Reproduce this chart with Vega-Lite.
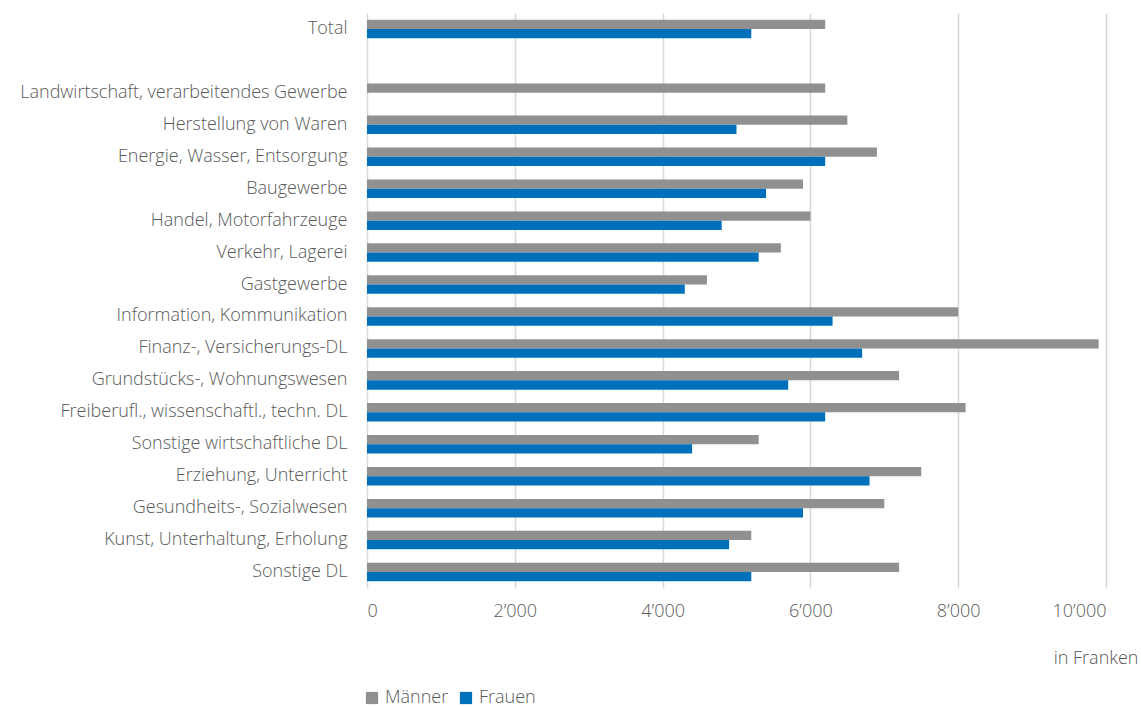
{
  "$schema": "https://vega.github.io/schema/vega-lite/v6.json",
  "autosize": "none",
  "width": 739,
  "height": 575,
  "padding": {"left": 367, "top": 13, "right": 35, "bottom": 119},
  "background": "white",
  "config": {
    "view": {"stroke": null},
    "font": "Open Sans",
    "axis": {"labelColor": "#595959", "titleColor": "#595959", "labelFont": "Open Sans", "titleFont": "Open Sans", "labelFontWeight": 300, "titleFontWeight": 300},
    "legend": {"labelColor": "#595959", "labelFont": "Open Sans", "labelFontWeight": 300}
  },
  "data": {
    "values": [
      {"branche": "Total", "geschlecht": "Männer", "lohn": 6200},
      {"branche": "Total", "geschlecht": "Frauen", "lohn": 5200},
      {"branche": "Landwirtschaft, verarbeitendes Gewerbe", "geschlecht": "Männer", "lohn": 6200},
      {"branche": "Herstellung von Waren", "geschlecht": "Männer", "lohn": 6500},
      {"branche": "Herstellung von Waren", "geschlecht": "Frauen", "lohn": 5000},
      {"branche": "Energie, Wasser, Entsorgung", "geschlecht": "Männer", "lohn": 6900},
      {"branche": "Energie, Wasser, Entsorgung", "geschlecht": "Frauen", "lohn": 6200},
      {"branche": "Baugewerbe", "geschlecht": "Männer", "lohn": 5900},
      {"branche": "Baugewerbe", "geschlecht": "Frauen", "lohn": 5400},
      {"branche": "Handel, Motorfahrzeuge", "geschlecht": "Männer", "lohn": 6000},
      {"branche": "Handel, Motorfahrzeuge", "geschlecht": "Frauen", "lohn": 4800},
      {"branche": "Verkehr, Lagerei", "geschlecht": "Männer", "lohn": 5600},
      {"branche": "Verkehr, Lagerei", "geschlecht": "Frauen", "lohn": 5300},
      {"branche": "Gastgewerbe", "geschlecht": "Männer", "lohn": 4600},
      {"branche": "Gastgewerbe", "geschlecht": "Frauen", "lohn": 4300},
      {"branche": "Information, Kommunikation", "geschlecht": "Männer", "lohn": 8000},
      {"branche": "Information, Kommunikation", "geschlecht": "Frauen", "lohn": 6300},
      {"branche": "Finanz-, Versicherungs-DL", "geschlecht": "Männer", "lohn": 9900},
      {"branche": "Finanz-, Versicherungs-DL", "geschlecht": "Frauen", "lohn": 6700},
      {"branche": "Grundstücks-, Wohnungswesen", "geschlecht": "Männer", "lohn": 7200},
      {"branche": "Grundstücks-, Wohnungswesen", "geschlecht": "Frauen", "lohn": 5700},
      {"branche": "Freiberufl., wissenschaftl., techn. DL", "geschlecht": "Männer", "lohn": 8100},
      {"branche": "Freiberufl., wissenschaftl., techn. DL", "geschlecht": "Frauen", "lohn": 6200},
      {"branche": "Sonstige wirtschaftliche DL", "geschlecht": "Männer", "lohn": 5300},
      {"branche": "Sonstige wirtschaftliche DL", "geschlecht": "Frauen", "lohn": 4400},
      {"branche": "Erziehung, Unterricht", "geschlecht": "Männer", "lohn": 7500},
      {"branche": "Erziehung, Unterricht", "geschlecht": "Frauen", "lohn": 6800},
      {"branche": "Gesundheits-, Sozialwesen", "geschlecht": "Männer", "lohn": 7000},
      {"branche": "Gesundheits-, Sozialwesen", "geschlecht": "Frauen", "lohn": 5900},
      {"branche": "Kunst, Unterhaltung, Erholung", "geschlecht": "Männer", "lohn": 5200},
      {"branche": "Kunst, Unterhaltung, Erholung", "geschlecht": "Frauen", "lohn": 4900},
      {"branche": "Sonstige DL", "geschlecht": "Männer", "lohn": 7200},
      {"branche": "Sonstige DL", "geschlecht": "Frauen", "lohn": 5200}
    ]
  },
  "mark": {"type": "bar"},
  "encoding": {
    "y": {
      "field": "branche",
      "type": "nominal",
      "scale": {
        "domain": ["Total", " ", "Landwirtschaft, verarbeitendes Gewerbe", "Herstellung von Waren", "Energie, Wasser, Entsorgung", "Baugewerbe", "Handel, Motorfahrzeuge", "Verkehr, Lagerei", "Gastgewerbe", "Information, Kommunikation", "Finanz-, Versicherungs-DL", "Grundstücks-, Wohnungswesen", "Freiberufl., wissenschaftl., techn. DL", "Sonstige wirtschaftliche DL", "Erziehung, Unterricht", "Gesundheits-, Sozialwesen", "Kunst, Unterhaltung, Erholung", "Sonstige DL"],
        "paddingInner": 0.42,
        "paddingOuter": 0.21
      },
      "axis": {
        "title": null,
        "domain": false,
        "ticks": false,
        "labelPadding": 20,
        "labelFontSize": 18,
        "labelLimit": 400
      }
    },
    "yOffset": {
      "field": "geschlecht",
      "type": "nominal",
      "scale": {"domain": ["Männer", "Frauen"], "paddingInner": 0, "paddingOuter": 0}
    },
    "x": {
      "field": "lohn",
      "type": "quantitative",
      "scale": {"domain": [0, 10000], "nice": false},
      "axis": {
        "title": "in Franken",
        "titleFontSize": 18,
        "titleAnchor": "end",
        "titleAlign": "right",
        "titleBaseline": "middle",
        "titleX": 771,
        "titleY": 70,
        "values": [0, 2000, 4000, 6000, 8000, 10000],
        "labelExpr": "replace(format(datum.value, ','), ',', '’')",
        "labelFontSize": 18,
        "labelPadding": 14,
        "domain": false,
        "ticks": false,
        "grid": true,
        "gridColor": "#d9d9d9",
        "gridWidth": 1.6
      }
    },
    "color": {
      "field": "geschlecht",
      "type": "nominal",
      "scale": {"domain": ["Männer", "Frauen"], "range": ["#909090", "#0070bb"]},
      "legend": {
        "title": null,
        "orient": "none",
        "direction": "horizontal",
        "legendX": -4,
        "legendY": 676,
        "symbolType": "square",
        "symbolSize": 150,
        "symbolStrokeWidth": 0,
        "symbolOpacity": 1,
        "labelFontSize": 18,
        "labelOffset": 4,
        "columnPadding": 8
      }
    }
  }
}
